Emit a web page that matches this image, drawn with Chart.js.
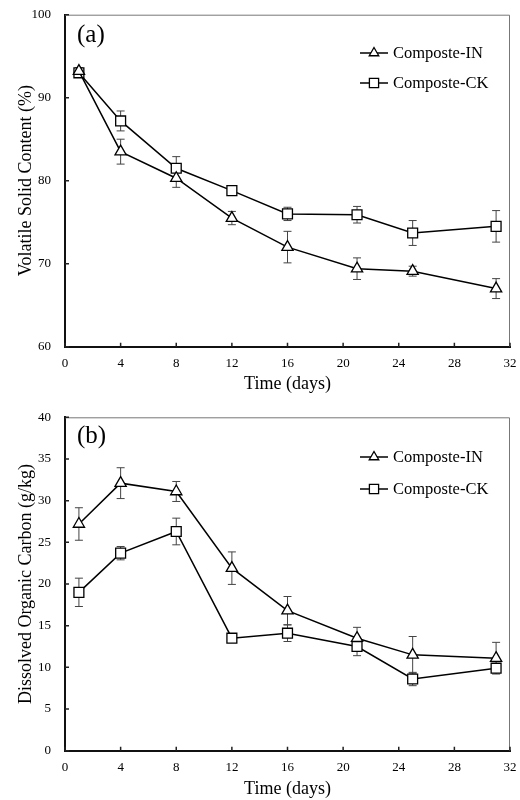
<!DOCTYPE html>
<html>
<head>
<meta charset="utf-8">
<script src="https://cdn.jsdelivr.net/npm/chart.js@4/dist/chart.umd.min.js"></script>
<style>
  html, body { margin: 0; padding: 0; background: #fff; }
  canvas { display: block; }
</style>
</head>
<body>
<canvas id="chartA" width="520" height="400"></canvas>
<canvas id="chartB" width="520" height="400"></canvas>
<script>
// Данные
const days = [1, 4, 8, 12, 16, 21, 25, 31];
const seriesNames = ["Composte-IN", "Composte-CK"];
const xTickValues = [0, 4, 8, 12, 16, 20, 24, 28, 32];

// (a) Volatile Solid Content
const vsIn = [93.2, 83.5, 80.3, 75.5, 72.0, 69.4, 69.1, 67.0];
const vsInErr = [0.4, 1.5, 1.1, 0.8, 1.9, 1.3, 0.6, 1.2];
const vsCk = [93.0, 87.2, 81.5, 78.8, 76.0, 75.9, 73.7, 74.5];
const vsCkErr = [0.5, 1.2, 1.4, 0.4, 0.8, 1.0, 1.5, 1.9];
const vsTickValues = [60, 70, 80, 90, 100];

// (b) Dissolved Organic Carbon
const docIn = [27.2, 32.1, 31.1, 21.9, 16.8, 13.5, 11.5, 11.1];
const docInErr = [1.95, 1.85, 1.2, 1.95, 1.7, 1.3, 2.2, 1.9];
const docCk = [19.0, 23.7, 26.3, 13.5, 14.1, 12.5, 8.6, 9.9];
const docCkErr = [1.7, 0.8, 1.6, 0.4, 1.0, 1.1, 0.8, 0.5];
const docTickValues = [0, 5, 10, 15, 20, 25, 30, 35, 40];

const FONT = "'Liberation Serif', 'Times New Roman', serif";
const STYLES = [
  { pointStyle: "triangle", radius: 6.5, legendRadius: 5.5 },
  { pointStyle: "rect", radius: 7, legendRadius: 6.5 },
];

// Рамка сверху/справа, внутренние засечки, усы погрешностей
const framePlugin = {
  id: "frame",
  beforeDatasetsDraw(chart) {
    const { ctx, chartArea: a, scales } = chart;
    ctx.save();
    ctx.strokeStyle = "#777";
    ctx.lineWidth = 1;
    ctx.beginPath();
    ctx.moveTo(a.left, a.top + 0.5);
    ctx.lineTo(a.right - 0.5, a.top + 0.5);
    ctx.lineTo(a.right - 0.5, a.bottom);
    ctx.stroke();

    ctx.strokeStyle = "#222";
    ctx.lineWidth = 1.5;
    ctx.beginPath();
    scales.x.ticks.forEach((t) => {
      const px = scales.x.getPixelForValue(t.value);
      ctx.moveTo(px, a.bottom);
      ctx.lineTo(px, a.bottom - 4);
    });
    scales.y.ticks.forEach((t) => {
      const py = scales.y.getPixelForValue(t.value);
      ctx.moveTo(a.left, py);
      ctx.lineTo(a.left + 4, py);
    });
    ctx.stroke();

    // погрешности
    ctx.strokeStyle = "#444";
    ctx.lineWidth = 1;
    chart.data.datasets.forEach((ds) => {
      ds.data.forEach((p, i) => {
        const e = ds.errors[i];
        const px = scales.x.getPixelForValue(p.x);
        const y1 = scales.y.getPixelForValue(p.y + e);
        const y2 = scales.y.getPixelForValue(p.y - e);
        ctx.beginPath();
        ctx.moveTo(px, y1);
        ctx.lineTo(px, y2);
        ctx.moveTo(px - 4, y1);
        ctx.lineTo(px + 4, y1);
        ctx.moveTo(px - 4, y2);
        ctx.lineTo(px + 4, y2);
        ctx.stroke();
      });
    });
    ctx.restore();
  },
  afterDraw(chart, args, opts) {
    const { ctx } = chart;
    ctx.save();
    // подпись панели
    ctx.fillStyle = "#000";
    ctx.font = "25px " + FONT;
    ctx.textBaseline = "middle";
    ctx.textAlign = "left";
    ctx.fillText(opts.label, 77, opts.labelY);

    // легенда
    ctx.font = "16.5px " + FONT;
    chart.data.datasets.forEach((ds, i) => {
      const y = opts.legendY[i];
      ctx.strokeStyle = "#000";
      ctx.lineWidth = 1.5;
      ctx.beginPath();
      ctx.moveTo(360, y);
      ctx.lineTo(388, y);
      ctx.stroke();
      ctx.fillStyle = "#fff";
      ctx.lineWidth = 1.3;
      Chart.helpers.drawPoint(ctx, {
        pointStyle: STYLES[i].pointStyle,
        radius: STYLES[i].legendRadius,
        rotation: 0,
        borderWidth: 1.3,
      }, 374, y);
      ctx.fillStyle = "#000";
      ctx.fillText(ds.label, 393, y + 1);
    });
    ctx.restore();
  },
};

function makeDataset(i, values, errors) {
  return {
    label: seriesNames[i],
    data: days.map((d, k) => ({ x: d, y: values[k] })),
    errors: errors,
    borderColor: "#000",
    borderWidth: 1.5,
    pointStyle: STYLES[i].pointStyle,
    pointRadius: STYLES[i].radius,
    pointBackgroundColor: "#fff",
    pointBorderColor: "#000",
    pointBorderWidth: 1.3,
    tension: 0,
    clip: false,
  };
}

function makeChart(id, cfg) {
  return new Chart(document.getElementById(id), {
    type: "line",
    data: { datasets: cfg.datasets },
    plugins: [framePlugin],
    options: {
      responsive: false,
      animation: false,
      layout: { padding: { top: cfg.padTop, right: 10, left: 0, bottom: 0 } },
      plugins: {
        legend: { display: false },
        tooltip: { enabled: false },
        frame: { label: cfg.label, labelY: cfg.labelY, legendY: cfg.legendY },
      },
      scales: {
        x: {
          type: "linear",
          min: 0,
          max: 32,
          afterBuildTicks: (s) => { s.ticks = xTickValues.map((v) => ({ value: v })); },
          afterFit: (s) => {
            s.height = cfg.xHeight;
            s.paddingLeft = 0;
            s.paddingRight = 0;
          },
          grid: { display: false, drawTicks: false },
          border: { display: true, color: "#111", width: 2 },
          ticks: { padding: 9, color: "#000", font: { family: FONT, size: 13 } },
          title: {
            display: true,
            text: "Time (days)",
            color: "#000",
            font: { family: FONT, size: 18 },
            padding: { top: 0, bottom: cfg.xTitlePad },
          },
        },
        y: {
          type: "linear",
          min: cfg.yTicks[0],
          max: cfg.yTicks[cfg.yTicks.length - 1],
          afterBuildTicks: (s) => { s.ticks = cfg.yTicks.map((v) => ({ value: v })); },
          afterFit: (s) => {
            s.width = 65;
            s.paddingTop = 0;
            s.paddingBottom = 0;
          },
          grid: { display: false, drawTicks: false },
          border: { display: true, color: "#111", width: 2 },
          ticks: { padding: 14, color: "#000", font: { family: FONT, size: 13 } },
          title: {
            display: true,
            text: cfg.yTitle,
            color: "#000",
            font: { family: FONT, size: 18 },
            padding: { top: 15, bottom: 0 },
          },
        },
      },
    },
  });
}

makeChart("chartA", {
  datasets: [makeDataset(0, vsIn, vsInErr), makeDataset(1, vsCk, vsCkErr)],
  yTicks: vsTickValues,
  yTitle: "Volatile Solid Content (%)",
  padTop: 14.7,
  xHeight: 53.3,
  xTitlePad: 5,
  label: "(a)",
  labelY: 35,
  legendY: [53, 83],
});

makeChart("chartB", {
  datasets: [makeDataset(0, docIn, docInErr), makeDataset(1, docCk, docCkErr)],
  yTicks: docTickValues,
  yTitle: "Dissolved Organic Carbon (g/kg)",
  padTop: 17.3,
  xHeight: 49.3,
  xTitlePad: 0,
  label: "(b)",
  labelY: 36,
  legendY: [57, 89],
});
</script>
</body>
</html>
